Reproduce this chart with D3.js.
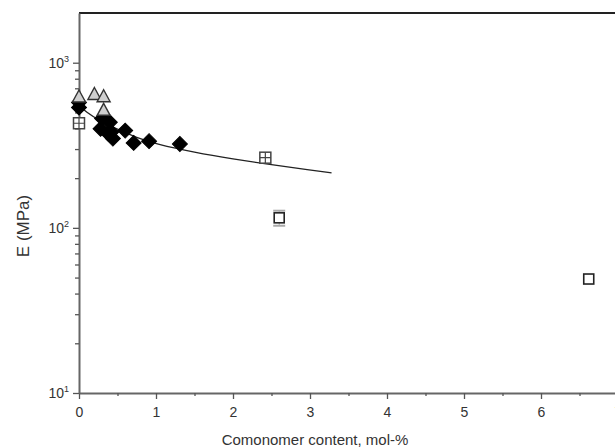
<!DOCTYPE html>
<html lang="en">
<head>
	<meta charset="UTF-8">
	<title>Modulus vs comonomer content</title>
	<script src="https://cdn.jsdelivr.net/npm/d3@7/dist/d3.min.js"></script>
	<style>
		body { margin: 0; background: #fff; }
		text { font-family: "Liberation Sans", Arial, sans-serif; fill: #333; }
	</style>
</head>
<body>
	<div id="container"></div>
	<script>
		var width = 615;
		var height = 448;

		// data (x = mol-%, y = E in MPa)
		var triangles = [[0, 620], [0.2, 642], [0.32, 622], [0.32, 515]];
		var diamonds = [[0, 575], [0, 535], [0.3, 460], [0.28, 398], [0.38, 372], [0.4, 436],
			[0.44, 347], [0.42, 380], [0.6, 388], [0.71, 327], [0.91, 335], [1.31, 322]];
		var crossSquares = [[0, 430], [2.42, 266]];
		var openSquares = [[2.6, 115], [6.62, 49]];
		var openSquareErr = [[103, 127], null];
		var fitLine = [[0, 550], [0.1, 500], [0.25, 450], [0.5, 395], [0.75, 352], [1.0, 322],
			[1.5, 286], [2.0, 261], [2.5, 241], [3.0, 224], [3.28, 215]];

		var xTicks = [0, 1, 2, 3, 4, 5, 6, 7];
		var xMinor = [0.5, 1.5, 2.5, 3.5, 4.5, 5.5, 6.5];
		var yTicks = [10, 100, 1000];
		var yMinor = [20, 30, 40, 50, 60, 70, 80, 90, 200, 300, 400, 500, 600, 700, 800, 900];

		var svg = d3.select("#container").append("svg")
			.attr("width", width)
			.attr("height", height);

		var x = d3.scaleLinear().domain([0, 7]).range([79, 618]);
		var y = d3.scaleLog().domain([10, 2000]).range([393, 13]);

		// frame: top border line
		svg.append("line")
			.attr("x1", 79).attr("x2", width)
			.attr("y1", 13).attr("y2", 13)
			.style("stroke", "#222").style("stroke-width", 2);

		// x axis
		var xAxis = svg.append("g").attr("transform", "translate(0,393)");
		xAxis.call(d3.axisBottom(x).tickValues(xTicks).tickSize(6).tickSizeOuter(0).tickFormat(d3.format("d")));
		xAxis.append("g").call(d3.axisBottom(x).tickValues(xMinor).tickSize(3).tickFormat(""))
			.select(".domain").remove();
		xAxis.selectAll(".domain").style("stroke", "#666").style("stroke-width", 2);
		xAxis.selectAll(".tick line").style("stroke", "#555").style("stroke-width", 1.3);
		xAxis.selectAll(".tick text")
			.attr("dy", "1.05em")
			.style("font-size", "14px").style("fill", "#333");

		// y axis
		var yAxis = svg.append("g").attr("transform", "translate(79,0)");
		yAxis.call(d3.axisLeft(y).tickValues(yTicks).tickSize(6).tickSizeOuter(0).tickFormat(""));
		yAxis.append("g").call(d3.axisLeft(y).tickValues(yMinor).tickSize(4).tickFormat(""))
			.select(".domain").remove();
		yAxis.selectAll(".domain").style("stroke", "#666").style("stroke-width", 2);
		yAxis.selectAll(".tick line").style("stroke", "#555").style("stroke-width", 1.3);

		var ylab = svg.selectAll(".ylab").data(yTicks)
			.enter().append("text")
				.attr("class", "ylab")
				.attr("x", 69)
				.attr("y", d => y(d) + 5)
				.attr("text-anchor", "end")
				.style("font-size", "14px");
		ylab.append("tspan").text("10");
		ylab.append("tspan")
			.attr("dy", -6)
			.style("font-size", "9px")
			.text(d => Math.round(Math.log10(d)));

		// axis titles
		svg.append("text")
			.attr("x", 315).attr("y", 445)
			.attr("text-anchor", "middle")
			.style("font-size", "15px")
			.text("Comonomer content, mol-%");
		svg.append("text")
			.attr("transform", "translate(29,226) rotate(-90)")
			.attr("text-anchor", "middle")
			.style("font-size", "17px")
			.text("E (MPa)");

		// fitted curve
		svg.append("path")
			.datum(fitLine)
			.attr("d", d3.line().x(d => x(d[0])).y(d => y(d[1])).curve(d3.curveBasis))
			.style("fill", "none")
			.style("stroke", "#222")
			.style("stroke-width", 1.3);

		// error bars on open squares
		svg.selectAll(".err").data(openSquares.filter((d, i) => openSquareErr[i]))
			.enter().append("g")
			.each(function(d, i) {
				var e = openSquareErr[i];
				var g = d3.select(this);
				[e[0], e[1]].forEach(v => {
					g.append("line")
						.attr("x1", x(d[0]) - 6).attr("x2", x(d[0]) + 6)
						.attr("y1", y(v)).attr("y2", y(v))
						.style("stroke", "#aaa").style("stroke-width", 2);
				});
				g.append("line")
					.attr("x1", x(d[0])).attr("x2", x(d[0]))
					.attr("y1", y(e[0])).attr("y2", y(e[1]))
					.style("stroke", "#aaa").style("stroke-width", 1);
			});

		// diamonds (filled)
		svg.selectAll(".dia").data(diamonds)
			.enter().append("path")
				.attr("transform", d => "translate(" + x(d[0]) + "," + y(d[1]) + ") rotate(45)")
				.attr("d", "M-5.3,-5.3L5.3,-5.3L5.3,5.3L-5.3,5.3Z")
				.style("fill", "#000")
				.style("stroke", "#000")
				.style("stroke-width", 1);

		// triangles (grey)
		svg.selectAll(".tri").data(triangles)
			.enter().append("path")
				.attr("transform", d => "translate(" + x(d[0]) + "," + y(d[1]) + ")")
				.attr("d", "M0,-7L6.5,5L-6.5,5Z")
				.style("fill", "#cfcfcf")
				.style("stroke", "#333")
				.style("stroke-width", 1.4);

		// squares with a cross
		var cs = svg.selectAll(".cs").data(crossSquares)
			.enter().append("g")
				.attr("transform", d => "translate(" + x(d[0]) + "," + y(d[1]) + ")");
		cs.append("rect")
			.attr("x", -5.5).attr("y", -5.5).attr("width", 11).attr("height", 11)
			.style("fill", "#fff").style("stroke", "#444").style("stroke-width", 1.5);
		cs.append("path")
			.attr("d", "M-5.5,0L5.5,0M0,-5.5L0,5.5")
			.style("stroke", "#444").style("stroke-width", 1.2);

		// open squares
		svg.selectAll(".os").data(openSquares)
			.enter().append("rect")
				.attr("x", d => x(d[0]) - 5)
				.attr("y", d => y(d[1]) - 5)
				.attr("width", 10).attr("height", 10)
				.style("fill", "#fff")
				.style("stroke", "#222")
				.style("stroke-width", 1.6);
	</script>
</body>
</html>
